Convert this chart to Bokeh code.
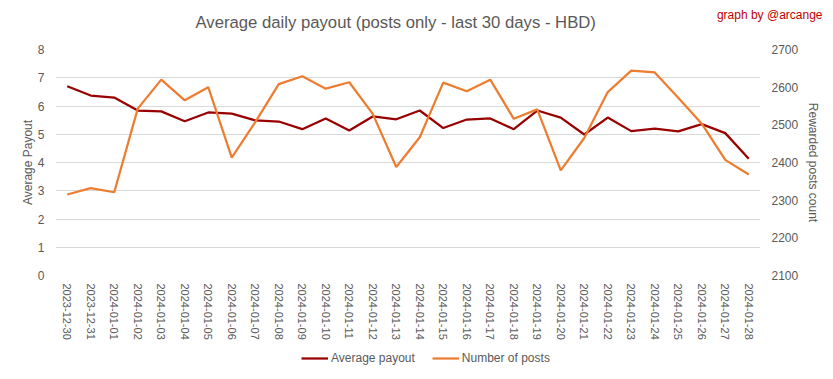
from bokeh.plotting import figure
from bokeh.layouts import column
from bokeh.models import (FactorRange, Range1d, LinearAxis, Legend, LegendItem,
                          Label, ColumnDataSource, FixedTicker)
from bokeh.embed import file_html
from bokeh.resources import INLINE

dates = ["2023-12-30", "2023-12-31", "2024-01-01", "2024-01-02", "2024-01-03",
         "2024-01-04", "2024-01-05", "2024-01-06", "2024-01-07", "2024-01-08",
         "2024-01-09", "2024-01-10", "2024-01-11", "2024-01-12", "2024-01-13",
         "2024-01-14", "2024-01-15", "2024-01-16", "2024-01-17", "2024-01-18",
         "2024-01-19", "2024-01-20", "2024-01-21", "2024-01-22", "2024-01-23",
         "2024-01-24", "2024-01-25", "2024-01-26", "2024-01-27", "2024-01-28"]
avg_payout = [6.70, 6.37, 6.30, 5.84, 5.81, 5.46, 5.77, 5.73, 5.49, 5.45,
              5.18, 5.56, 5.13, 5.63, 5.53, 5.84, 5.22, 5.52, 5.56, 5.18,
              5.84, 5.59, 4.99, 5.59, 5.11, 5.20, 5.10, 5.36, 5.04, 4.13]
num_posts = [2315, 2332, 2321, 2543, 2620, 2565, 2600, 2413, 2507, 2608,
             2629, 2596, 2613, 2529, 2388, 2467, 2612, 2589, 2620, 2516,
             2541, 2379, 2465, 2587, 2644, 2639, 2572, 2503, 2407, 2368]
left_ticks = [0, 1, 2, 3, 4, 5, 6, 7, 8]
right_ticks = [2100, 2200, 2300, 2400, 2500, 2600, 2700]
title_text = "Average daily payout (posts only - last 30 days - HBD)"
credit_text = "graph by @arcange"
series_names = ["Average payout", "Number of posts"]
series_colors = ["#990000", "#ED7D31"]

GRAY = "#595959"
FONT = "Liberation Sans"


def bare(fig):
    fig.outline_line_color = None
    fig.grid.grid_line_color = None
    fig.min_border = 0
    fig.title_location = None


def unalign(fig):
    try:
        fig.frame_align = False
        return True
    except Exception:
        return False


# ---------- title strip ----------
pt = figure(width=832, height=40, output_backend="svg", toolbar_location=None,
            x_axis_location=None, y_axis_location=None)
bare(pt)

# ---------- main chart ----------
src = ColumnDataSource(dict(d=dates, a=avg_payout, n=num_posts))

p = figure(frame_width=705, frame_height=226, output_backend="svg",
           toolbar_location=None,
           x_range=FactorRange(factors=dates, range_padding=0, factor_padding=0),
           y_range=Range1d(0, 8),
           min_border_left=55, min_border_right=72, min_border_top=9,
           min_border_bottom=76)
p.title_location = None
p.extra_y_ranges = {"posts": Range1d(2100, 2700)}

# ---------- legend strip ----------
pl = figure(width=832, height=28, output_backend="svg", toolbar_location=None,
            x_axis_location=None, y_axis_location=None,
            x_range=Range1d(0, 1), y_range=Range1d(-20, -10))
bare(pl)

free = unalign(pt) & unalign(p) & unalign(pl)
OFF = 0 if free else 55

pt.add_layout(Label(x=195 - OFF, y=18, x_units="screen", y_units="screen",
                    text=title_text, text_align="left", text_baseline="middle",
                    text_font=FONT, text_font_size="16.7px", text_color=GRAY))
pt.add_layout(Label(x=(822 if free else 705), y=26, x_units="screen",
                    y_units="screen", text=credit_text, text_align="right",
                    text_baseline="middle", text_font=FONT,
                    text_font_size="12px", text_color="#C00000"))


def plain(axis):
    axis.axis_line_color = None
    axis.major_tick_line_color = None
    axis.minor_tick_line_color = None
    axis.major_tick_out = 0
    axis.major_tick_in = 0
    axis.minor_tick_out = 0
    axis.minor_tick_in = 0
    axis.major_label_text_font = FONT
    axis.major_label_text_color = GRAY


p.outline_line_color = None
p.xgrid.grid_line_color = None
p.ygrid.grid_line_color = "#d9d9d9"
p.ygrid.ticker = FixedTicker(ticks=left_ticks)

ax = p.below[0]
plain(ax)
ax.major_label_orientation = "vertical"
ax.major_label_text_font_size = "11px"
ax.major_label_standoff = 8

ly = p.left[0]
plain(ly)
ly.ticker = FixedTicker(ticks=left_ticks)
ly.axis_label = "Average Payout"
ly.major_label_text_font_size = "12px"
ly.major_label_standoff = 11
ly.axis_label_text_font = FONT
ly.axis_label_text_font_size = "12px"
ly.axis_label_text_font_style = "normal"
ly.axis_label_text_color = GRAY
ly.axis_label_standoff = 0

ry = LinearAxis(y_range_name="posts", ticker=FixedTicker(ticks=right_ticks),
                axis_label="Rewarded posts count")
plain(ry)
ry.major_label_text_font_size = "12px"
ry.major_label_standoff = 11
ry.axis_label_text_font = FONT
ry.axis_label_text_font_size = "12px"
ry.axis_label_text_font_style = "normal"
ry.axis_label_text_color = GRAY
ry.axis_label_standoff = 5
p.add_layout(ry, "right")

p.line("d", "a", source=src, line_color=series_colors[0], line_width=2.25)
p.line("d", "n", source=src, y_range_name="posts", line_color=series_colors[1],
       line_width=2.25)

# legend proxies: same series, drawn outside the strip's visible range
idx = list(range(len(dates)))
lr1 = pl.line(x=idx, y=avg_payout, line_color=series_colors[0], line_width=2.25)
lr2 = pl.line(x=idx, y=num_posts, line_color=series_colors[1], line_width=2.25)
leg = Legend(items=[LegendItem(label=series_names[0], renderers=[lr1]),
                    LegendItem(label=series_names[1], renderers=[lr2])],
             orientation="horizontal", location=(301 - OFF, 14),
             background_fill_alpha=0, border_line_color=None,
             padding=0, margin=0, spacing=17, glyph_width=27, glyph_height=14,
             label_height=14, label_standoff=3, label_text_font=FONT,
             label_text_font_size="12px", label_text_color=GRAY)
pl.add_layout(leg, "center")

layout = column(pt, p, pl, spacing=0)
open("out.html", "w").write(file_html(layout, INLINE))
